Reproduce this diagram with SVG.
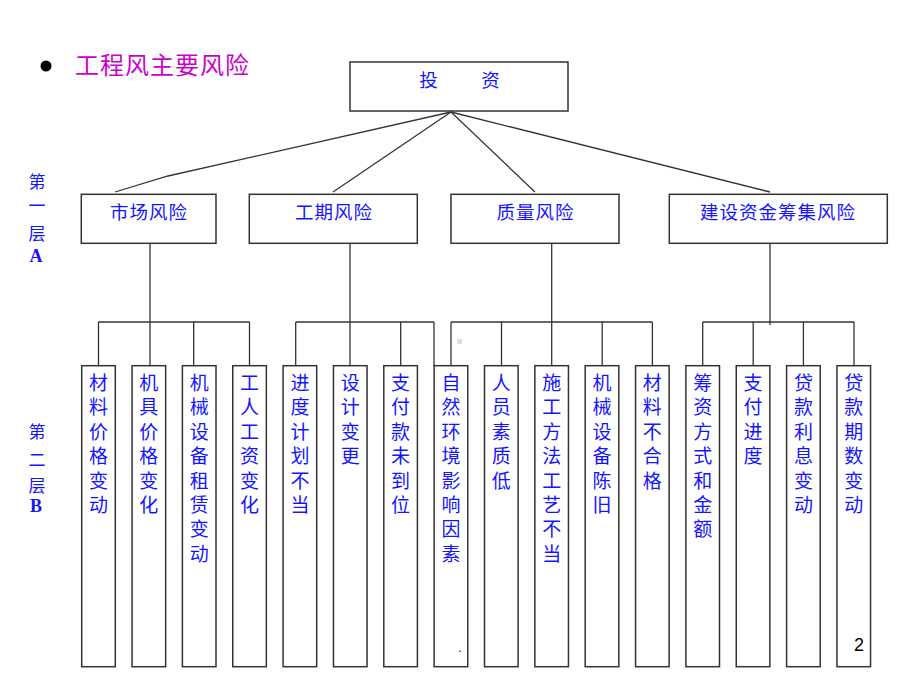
<svg xmlns="http://www.w3.org/2000/svg" width="920" height="690" viewBox="0 0 920 690">
<style>
.box{fill:#fff;stroke:#333;stroke-width:1.5}
.ln{fill:none;stroke:#333;stroke-width:1.3}
.t{font-family:"Noto Sans CJK SC","Noto Sans",sans-serif;fill:#1414ff;text-anchor:middle}
.ta{font-size:18.5px;letter-spacing:1px}
.tb{font-size:19px}
.lab{font-family:"Noto Sans CJK SC",sans-serif;font-size:17px;fill:#1414ff;text-anchor:middle}
.labL{font-family:"Liberation Serif",serif;font-weight:bold;font-size:18px;fill:#1414ff;text-anchor:middle}
</style>
<rect width="920" height="690" fill="#fff"/>
<circle cx="46" cy="66" r="5.5" fill="#000"/>
<text x="75" y="74" font-family="'Noto Sans CJK SC',sans-serif" font-size="24" letter-spacing="1" fill="#cc00cc">工程风主要风险</text>

<g id="labelA">
<text class="lab" x="37" y="188">第</text>
<text class="lab" x="37" y="212">一</text>
<text class="lab" x="37" y="240">层</text>
<text class="labL" x="36" y="262">A</text>
</g>
<g id="labelB">
<text class="lab" x="37" y="438">第</text>
<text class="lab" x="37" y="466">二</text>
<text class="lab" x="37" y="492">层</text>
<text class="labL" x="36" y="512">B</text>
</g>

<g id="connectors">
<polyline class="ln" points="451,112 168,176 115,192"/>
<line class="ln" x1="451" y1="112" x2="333" y2="192"/>
<line class="ln" x1="451" y1="112" x2="535" y2="192"/>
<line class="ln" x1="451" y1="112" x2="770" y2="192"/>
<line class="ln" x1="150" y1="243" x2="150" y2="366"/>
<line class="ln" x1="98.3" y1="322" x2="249.5" y2="322"/>
<line class="ln" x1="98.5" y1="322" x2="98.5" y2="366"/>
<line class="ln" x1="193.7" y1="322" x2="193.7" y2="366"/>
<line class="ln" x1="249.5" y1="322" x2="249.5" y2="366"/>
<line class="ln" x1="350" y1="243" x2="350" y2="366"/>
<line class="ln" x1="295.7" y1="322" x2="434" y2="322"/>
<line class="ln" x1="295.7" y1="322" x2="295.7" y2="366"/>
<line class="ln" x1="400.7" y1="322" x2="400.7" y2="366"/>
<line class="ln" x1="434" y1="322" x2="434" y2="366"/>
<line class="ln" x1="551.7" y1="243" x2="551.7" y2="366"/>
<line class="ln" x1="451" y1="322" x2="652.4" y2="322"/>
<line class="ln" x1="451" y1="322" x2="451" y2="366"/>
<line class="ln" x1="501.5" y1="322" x2="501.5" y2="366"/>
<line class="ln" x1="602.2" y1="322" x2="602.2" y2="366"/>
<line class="ln" x1="652.4" y1="322" x2="652.4" y2="366"/>
<line class="ln" x1="770" y1="243" x2="770" y2="325"/>
<line class="ln" x1="702.7" y1="322" x2="854" y2="322"/>
<line class="ln" x1="702.7" y1="322" x2="702.7" y2="366"/>
<line class="ln" x1="753.2" y1="322" x2="753.2" y2="366"/>
<line class="ln" x1="803.4" y1="322" x2="803.4" y2="366"/>
<line class="ln" x1="854" y1="322" x2="854" y2="366"/>
</g>

<rect x="457" y="339" width="5" height="5" fill="#ddd"/>

<g id="root">
<rect class="box" x="350" y="62" width="218" height="49"/>
<text class="t ta" x="429" y="87">投</text>
<text class="t ta" x="491" y="87">资</text>
</g>

<g id="a1"><rect class="box" x="81.3" y="194.3" width="134.7" height="49"/><text class="t ta" x="149" y="219">市场风险</text></g>
<g id="a2"><rect class="box" x="249.3" y="194.3" width="168" height="49"/><text class="t ta" x="334" y="219">工期风险</text></g>
<g id="a3"><rect class="box" x="451" y="194.3" width="168" height="49"/><text class="t ta" x="535.5" y="219">质量风险</text></g>
<g id="a4"><rect class="box" x="669.3" y="194.3" width="218" height="49"/><text class="t ta" x="778" y="219">建设资金筹集风险</text></g>

<g id="b1"><rect class="box" x="81.7" y="365.7" width="33.6" height="301"/><text class="t tb" y="365.6"><tspan x="98.5" dy="24.4">材</tspan><tspan x="98.5" dy="24.4">料</tspan><tspan x="98.5" dy="24.4">价</tspan><tspan x="98.5" dy="24.4">格</tspan><tspan x="98.5" dy="24.4">变</tspan><tspan x="98.5" dy="24.4">动</tspan></text></g>
<g id="b2"><rect class="box" x="132.05" y="365.7" width="33.6" height="301"/><text class="t tb" y="365.6"><tspan x="148.85" dy="24.4">机</tspan><tspan x="148.85" dy="24.4">具</tspan><tspan x="148.85" dy="24.4">价</tspan><tspan x="148.85" dy="24.4">格</tspan><tspan x="148.85" dy="24.4">变</tspan><tspan x="148.85" dy="24.4">化</tspan></text></g>
<g id="b3"><rect class="box" x="182.4" y="365.7" width="33.6" height="301"/><text class="t tb" y="365.6"><tspan x="199.2" dy="24.4">机</tspan><tspan x="199.2" dy="24.4">械</tspan><tspan x="199.2" dy="24.4">设</tspan><tspan x="199.2" dy="24.4">备</tspan><tspan x="199.2" dy="24.4">租</tspan><tspan x="199.2" dy="24.4">赁</tspan><tspan x="199.2" dy="24.4">变</tspan><tspan x="199.2" dy="24.4">动</tspan></text></g>
<g id="b4"><rect class="box" x="232.75" y="365.7" width="33.6" height="301"/><text class="t tb" y="365.6"><tspan x="249.55" dy="24.4">工</tspan><tspan x="249.55" dy="24.4">人</tspan><tspan x="249.55" dy="24.4">工</tspan><tspan x="249.55" dy="24.4">资</tspan><tspan x="249.55" dy="24.4">变</tspan><tspan x="249.55" dy="24.4">化</tspan></text></g>
<g id="b5"><rect class="box" x="283.1" y="365.7" width="33.6" height="301"/><text class="t tb" y="365.6"><tspan x="299.9" dy="24.4">进</tspan><tspan x="299.9" dy="24.4">度</tspan><tspan x="299.9" dy="24.4">计</tspan><tspan x="299.9" dy="24.4">划</tspan><tspan x="299.9" dy="24.4">不</tspan><tspan x="299.9" dy="24.4">当</tspan></text></g>
<g id="b6"><rect class="box" x="333.45" y="365.7" width="33.6" height="301"/><text class="t tb" y="365.6"><tspan x="350.25" dy="24.4">设</tspan><tspan x="350.25" dy="24.4">计</tspan><tspan x="350.25" dy="24.4">变</tspan><tspan x="350.25" dy="24.4">更</tspan></text></g>
<g id="b7"><rect class="box" x="383.8" y="365.7" width="33.6" height="301"/><text class="t tb" y="365.6"><tspan x="400.6" dy="24.4">支</tspan><tspan x="400.6" dy="24.4">付</tspan><tspan x="400.6" dy="24.4">款</tspan><tspan x="400.6" dy="24.4">未</tspan><tspan x="400.6" dy="24.4">到</tspan><tspan x="400.6" dy="24.4">位</tspan></text></g>
<g id="b8"><rect class="box" x="434.15" y="365.7" width="33.6" height="301"/><text class="t tb" y="365.6"><tspan x="450.95" dy="24.4">自</tspan><tspan x="450.95" dy="24.4">然</tspan><tspan x="450.95" dy="24.4">环</tspan><tspan x="450.95" dy="24.4">境</tspan><tspan x="450.95" dy="24.4">影</tspan><tspan x="450.95" dy="24.4">响</tspan><tspan x="450.95" dy="24.4">因</tspan><tspan x="450.95" dy="24.4">素</tspan></text><text x="460" y="652" font-family="'Liberation Sans',sans-serif" font-size="12" fill="#000" text-anchor="middle">.</text></g>
<g id="b9"><rect class="box" x="484.5" y="365.7" width="33.6" height="301"/><text class="t tb" y="365.6"><tspan x="501.3" dy="24.4">人</tspan><tspan x="501.3" dy="24.4">员</tspan><tspan x="501.3" dy="24.4">素</tspan><tspan x="501.3" dy="24.4">质</tspan><tspan x="501.3" dy="24.4">低</tspan></text></g>
<g id="b10"><rect class="box" x="534.85" y="365.7" width="33.6" height="301"/><text class="t tb" y="365.6"><tspan x="551.65" dy="24.4">施</tspan><tspan x="551.65" dy="24.4">工</tspan><tspan x="551.65" dy="24.4">方</tspan><tspan x="551.65" dy="24.4">法</tspan><tspan x="551.65" dy="24.4">工</tspan><tspan x="551.65" dy="24.4">艺</tspan><tspan x="551.65" dy="24.4">不</tspan><tspan x="551.65" dy="24.4">当</tspan></text></g>
<g id="b11"><rect class="box" x="585.2" y="365.7" width="33.6" height="301"/><text class="t tb" y="365.6"><tspan x="602" dy="24.4">机</tspan><tspan x="602" dy="24.4">械</tspan><tspan x="602" dy="24.4">设</tspan><tspan x="602" dy="24.4">备</tspan><tspan x="602" dy="24.4">陈</tspan><tspan x="602" dy="24.4">旧</tspan></text></g>
<g id="b12"><rect class="box" x="635.55" y="365.7" width="33.6" height="301"/><text class="t tb" y="365.6"><tspan x="652.35" dy="24.4">材</tspan><tspan x="652.35" dy="24.4">料</tspan><tspan x="652.35" dy="24.4">不</tspan><tspan x="652.35" dy="24.4">合</tspan><tspan x="652.35" dy="24.4">格</tspan></text></g>
<g id="b13"><rect class="box" x="685.9" y="365.7" width="33.6" height="301"/><text class="t tb" y="365.6"><tspan x="702.7" dy="24.4">筹</tspan><tspan x="702.7" dy="24.4">资</tspan><tspan x="702.7" dy="24.4">方</tspan><tspan x="702.7" dy="24.4">式</tspan><tspan x="702.7" dy="24.4">和</tspan><tspan x="702.7" dy="24.4">金</tspan><tspan x="702.7" dy="24.4">额</tspan></text></g>
<g id="b14"><rect class="box" x="736.25" y="365.7" width="33.6" height="301"/><text class="t tb" y="365.6"><tspan x="753.05" dy="24.4">支</tspan><tspan x="753.05" dy="24.4">付</tspan><tspan x="753.05" dy="24.4">进</tspan><tspan x="753.05" dy="24.4">度</tspan></text></g>
<g id="b15"><rect class="box" x="786.6" y="365.7" width="33.6" height="301"/><text class="t tb" y="365.6"><tspan x="803.4" dy="24.4">贷</tspan><tspan x="803.4" dy="24.4">款</tspan><tspan x="803.4" dy="24.4">利</tspan><tspan x="803.4" dy="24.4">息</tspan><tspan x="803.4" dy="24.4">变</tspan><tspan x="803.4" dy="24.4">动</tspan></text></g>
<g id="b16"><rect class="box" x="836.95" y="365.7" width="33.6" height="301"/><text class="t tb" y="365.6"><tspan x="853.75" dy="24.4">贷</tspan><tspan x="853.75" dy="24.4">款</tspan><tspan x="853.75" dy="24.4">期</tspan><tspan x="853.75" dy="24.4">数</tspan><tspan x="853.75" dy="24.4">变</tspan><tspan x="853.75" dy="24.4">动</tspan></text></g>
<text x="859" y="651" font-family="'Liberation Sans',sans-serif" font-size="18" fill="#000" text-anchor="middle">2</text>
</svg>
